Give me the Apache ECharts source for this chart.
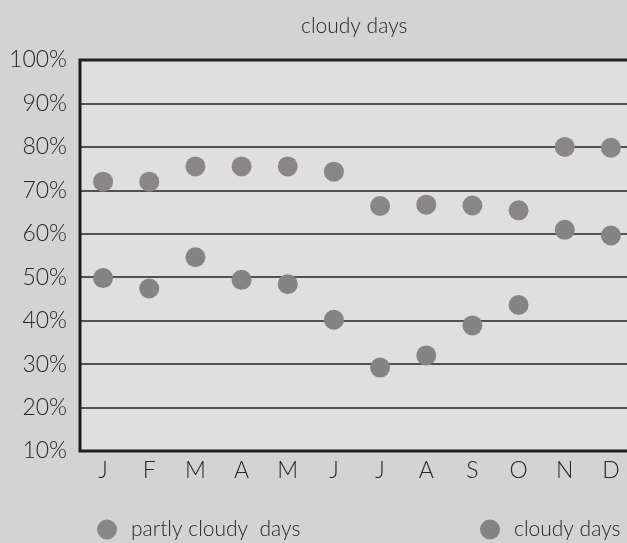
<!DOCTYPE html>
<html>
<head>
<meta charset="utf-8">
<title>cloudy days</title>
<script src="https://cdn.jsdelivr.net/npm/echarts@6/dist/echarts.min.js"></script>
<style>
  html, body { margin: 0; padding: 0; background: #d3d3d3; }
  #chart { width: 627px; height: 543px; }
</style>
</head>
<body>
<div id="chart"></div>
<script>
// Monthly share of days, in percent
const months = ['J', 'F', 'M', 'A', 'M', 'J', 'J', 'A', 'S', 'O', 'N', 'D'];
const partlyCloudy = [72, 72, 75.5, 75.5, 75.5, 74.3, 66.4, 66.7, 66.5, 65.4, 80, 79.8];
const cloudy = [49.8, 47.4, 54.6, 49.4, 48.4, 40.2, 29.2, 32, 38.9, 43.6, 60.9, 59.6];
const seriesNames = ['partly cloudy  days', 'cloudy days'];

const FONT = 'Lato, "Open Sans", sans-serif';
const INK = '#262626';

const chart = echarts.init(document.getElementById('chart'), null, { renderer: 'canvas' });

chart.setOption({
  backgroundColor: '#d3d3d3',
  animation: false,
  title: {
    text: 'cloudy days',
    left: 296,
    top: 11,
    textStyle: { fontFamily: FONT, fontWeight: 300, fontSize: 21, color: INK }
  },
  legend: [
    {
      data: [seriesNames[0]],
      left: 92, top: 514,
      icon: 'circle', itemWidth: 20, itemHeight: 20,
      textStyle: { fontFamily: FONT, fontWeight: 300, fontSize: 21, color: INK, padding: [0, 0, 0, 9] }
    },
    {
      data: [seriesNames[1]],
      left: 475, top: 514,
      icon: 'circle', itemWidth: 20, itemHeight: 20,
      textStyle: { fontFamily: FONT, fontWeight: 300, fontSize: 21, color: INK, padding: [0, 0, 0, 9] }
    }
  ],
  // plot area runs past the right edge of the canvas, so only three sides of the frame show
  grid: {
    left: 80, top: 60, width: 554, height: 391,
    outerBoundsMode: 'none',
    containLabel: false,
    show: true,
    backgroundColor: '#dfdfe0',
    borderColor: '#1c1c1c',
    borderWidth: 3
  },
  xAxis: {
    type: 'category',
    data: months,
    boundaryGap: true,
    axisLine: { show: false },
    axisTick: { show: false },
    splitLine: { show: false },
    axisLabel: { fontFamily: FONT, fontWeight: 300, fontSize: 23, color: INK, margin: 8 }
  },
  yAxis: {
    type: 'value',
    min: 10, max: 100, interval: 10,
    axisLine: { show: false },
    axisTick: { show: false },
    axisLabel: {
      formatter: '{value}%',
      fontFamily: FONT, fontWeight: 300, fontSize: 23, color: INK, margin: 13
    },
    splitLine: { show: true, lineStyle: { color: '#222', width: 1.5 } }
  },
  series: [
    {
      name: seriesNames[0],
      type: 'scatter',
      data: partlyCloudy,
      symbolSize: 20,
      itemStyle: { color: '#8a8587', opacity: 1 }
    },
    {
      name: seriesNames[1],
      type: 'scatter',
      data: cloudy,
      symbolSize: 20,
      itemStyle: { color: '#848484', opacity: 1 }
    }
  ]
});
</script>
</body>
</html>
